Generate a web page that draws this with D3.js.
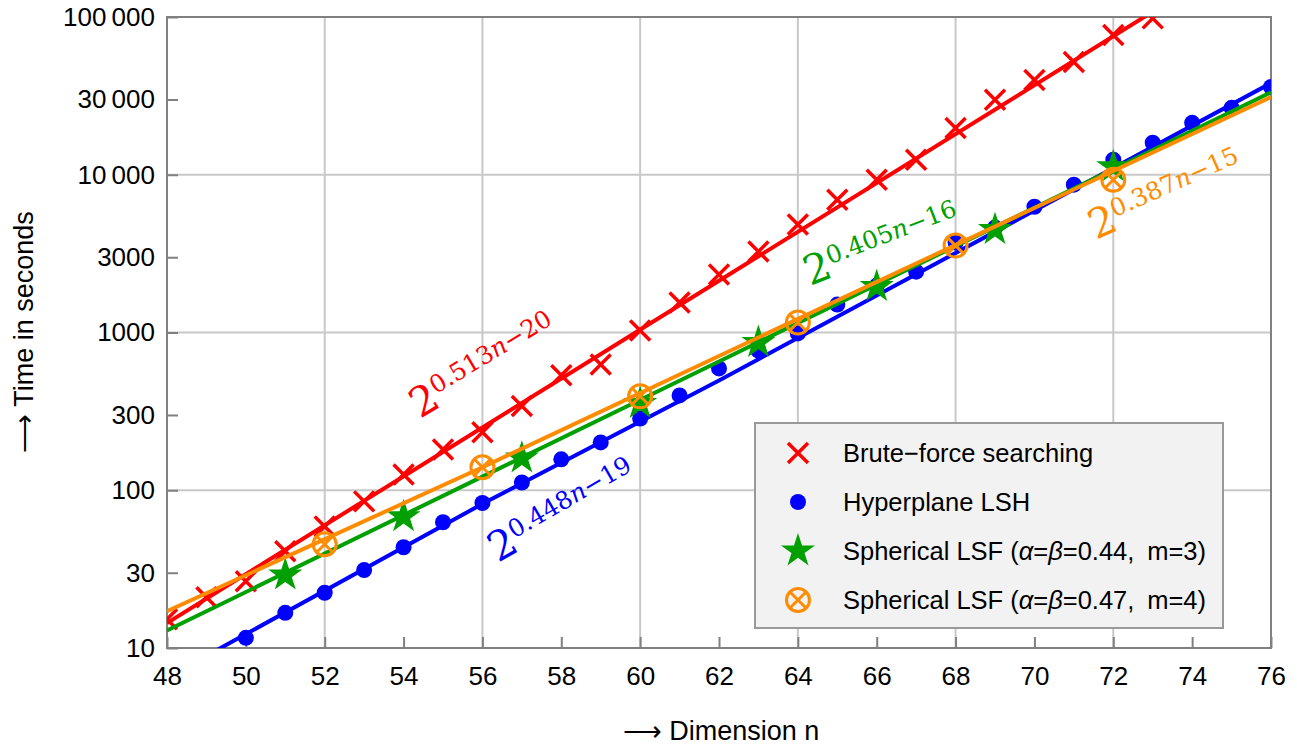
<!DOCTYPE html>
<html>
<head>
<meta charset="utf-8">
<script src="https://cdn.jsdelivr.net/npm/d3@7"></script>
<style>
body { margin: 0; background: #fff; }
text { font-family: "Liberation Sans", Arial, sans-serif; }
</style>
</head>
<body>
<div id="chart"></div>
<script>

// measured points (dimension n, time in seconds)
var bruteN = [48, 49, 50, 51, 52, 53, 54, 55, 56, 57, 58, 59, 60, 61, 62, 63, 64, 65, 66, 67, 68, 69, 70, 71, 72, 73];
var bruteT = [15.2, 21, 26.5, 41, 59, 85, 126, 181, 233, 342, 535, 627, 1030, 1549, 2328, 3260, 4830, 6950, 9290, 12440, 19800, 29840, 39900, 51900, 76900, 98000];

var hyperN = [50, 51, 52, 53, 54, 55, 56, 57, 58, 59, 60, 61, 62, 63, 64, 65, 66, 67, 68, 69, 70, 71, 72, 73, 74, 75, 76];
var hyperT = [11.6, 16.7, 22.4, 31.2, 43.5, 62.7, 83, 112, 157, 201, 285, 399, 592, 769, 986, 1503, 1983, 2431, 3716, 4625, 6270, 8650, 12450, 15960, 21350, 26550, 36000];

var lsf3N = [51, 54, 57, 60, 63, 66, 69, 72];
var lsf3T = [29, 68, 160, 355, 865, 1955, 4490, 11250];

var lsf4N = [52, 56, 60, 64, 68, 72];
var lsf4T = [45.5, 140, 394, 1157, 3557, 9290];

// fitted curves, read at a few n
var fitN = [48, 56, 62, 76];
var bruteFit = [14.4, 250, 2130, 315000];
var hyperFit = [6.5, 82, 497, 38100];
var lsf3Fit = [12.9, 122, 655, 33300];
var lsf4Fit = [17.1, 140, 710, 31100];

var fitCoef = ["0.513", "0.448", "0.405", "0.387"];
var fitConst = ["\u221220", "\u221219", "\u221216", "\u221215"];

var xTicks = [48, 50, 52, 54, 56, 58, 60, 62, 64, 66, 68, 70, 72, 74, 76];
var xGrid = [52, 56, 60, 64, 68, 72];
var yTicks = [10, 30, 100, 300, 1000, 3000, 10000, 30000, 100000];
var yTickLabels = ["10", "30", "100", "300", "1000", "3000", "10\u2009000", "30\u2009000", "100\u2009000"];
var yGrid = [100, 1000, 10000];

var legendNames = ["Brute\u2212force searching", "Hyperplane LSH", "Spherical LSF (", "Spherical LSF ("];
var legendParams = [null, null, "0.44", "0.47"];
var legendM = [null, null, "3", "4"];

var W = 1297, H = 745;
var pLeft = 167, pTop = 17, pRight = 1271, pBottom = 648;

var svg = d3.select("#chart").append("svg")
	.attr("width", W)
	.attr("height", H);

var x = d3.scaleLinear().domain([48, 76]).range([pLeft, pRight]);
var y = d3.scaleLog().domain([10, 100000]).range([pBottom, pTop]);

svg.append("defs").append("clipPath").attr("id", "plotclip")
	.append("rect")
	.attr("x", pLeft).attr("y", pTop)
	.attr("width", pRight - pLeft).attr("height", pBottom - pTop);

// grid
svg.selectAll("line.vgrid").data(xGrid).enter().append("line")
	.attr("class", "vgrid")
	.attr("x1", function (d) { return x(d); })
	.attr("x2", function (d) { return x(d); })
	.attr("y1", pTop).attr("y2", pBottom)
	.style("stroke", "#c8c8c8").style("stroke-width", 2);
svg.selectAll("line.hgrid").data(yGrid).enter().append("line")
	.attr("class", "hgrid")
	.attr("y1", function (d) { return y(d); })
	.attr("y2", function (d) { return y(d); })
	.attr("x1", pLeft).attr("x2", pRight)
	.style("stroke", "#c8c8c8").style("stroke-width", 2);

// axes
var xAxis = svg.append("g")
	.attr("transform", "translate(0," + pBottom + ")")
	.call(d3.axisBottom(x).tickValues(xTicks).tickSize(-11).tickPadding(19).tickFormat(d3.format("d")));
var yAxis = svg.append("g")
	.attr("transform", "translate(" + pLeft + ",0)")
	.call(d3.axisLeft(y).tickValues(yTicks).tickSize(-11).tickPadding(12).tickFormat(function (d, i) {
		return yTickLabels[i];
	}));
[xAxis, yAxis].forEach(function (a) {
	a.select(".domain").remove();
	a.selectAll(".tick line").style("stroke", "#808080").style("stroke-width", 2);
	a.selectAll(".tick text")
		.style("font-family", "Liberation Sans, Arial, sans-serif")
		.style("font-size", "26px")
		.style("fill", "#000");
});

svg.append("rect")
	.attr("x", pLeft).attr("y", pTop)
	.attr("width", pRight - pLeft).attr("height", pBottom - pTop)
	.style("fill", "none").style("stroke", "#808080").style("stroke-width", 2);

// axis titles
svg.append("text")
	.attr("x", 721).attr("y", 740)
	.attr("text-anchor", "middle")
	.style("font-size", "27px")
	.text("\u27F6 Dimension n");
svg.append("text")
	.attr("transform", "translate(33,332) rotate(-90)")
	.attr("text-anchor", "middle")
	.style("font-size", "27px")
	.text("\u27F6 Time in seconds");

// marker drawing
function drawMarker(g, kind, color) {
	if (kind == "cross") {
		g.append("path").attr("d", "M-10,-10L10,10M-10,10L10,-10")
			.style("stroke", color).style("stroke-width", 3.5).style("fill", "none");
	} else if (kind == "dot") {
		g.append("circle").attr("r", 8).style("fill", color);
	} else if (kind == "star") {
		g.append("path").attr("d", d3.symbol().type(d3.symbolStar).size(360)())
			.style("fill", color);
	} else {
		g.append("circle").attr("r", 11.5)
			.style("fill", "none").style("stroke", color).style("stroke-width", 3);
		g.append("path").attr("d", "M-8,-8L8,8M-8,8L8,-8")
			.style("stroke", color).style("stroke-width", 3).style("fill", "none");
	}
}

var series = [
	{ n: bruteN, t: bruteT, fit: bruteFit, color: "#ff0000", kind: "cross" },
	{ n: hyperN, t: hyperT, fit: hyperFit, color: "#0000ff", kind: "dot" },
	{ n: lsf3N, t: lsf3T, fit: lsf3Fit, color: "#00a000", kind: "star" },
	{ n: lsf4N, t: lsf4T, fit: lsf4Fit, color: "#ff8c00", kind: "ring" }
];

var plot = svg.append("g").attr("clip-path", "url(#plotclip)");
var fitLine = d3.line()
	.x(function (d) { return x(d[0]); })
	.y(function (d) { return y(d[1]); });

series.forEach(function (s) {
	plot.append("path")
		.datum(fitN.map(function (n, i) { return [n, s.fit[i]]; }))
		.attr("d", fitLine)
		.style("fill", "none")
		.style("stroke", s.color)
		.style("stroke-width", 4);
	plot.selectAll(null)
		.data(s.n.map(function (n, i) { return [n, s.t[i]]; }))
		.enter().append("g")
		.attr("transform", function (d) { return "translate(" + x(d[0]) + "," + y(d[1]) + ")"; })
		.each(function () { drawMarker(d3.select(this), s.kind, s.color); });
});

// fit formulas
var labelPos = [[420, 419, 31], [498, 563, 30], [810, 286, 21], [1096, 240, 24]];
series.forEach(function (s, i) {
	var p = labelPos[i];
	var t = svg.append("text")
		.attr("transform", "translate(" + p[0] + "," + p[1] + ") rotate(" + (-p[2]) + ")")
		.style("font-family", "DejaVu Serif, serif")
		.style("fill", s.color);
	t.append("tspan").style("font-size", "41px").text("2");
	t.append("tspan").attr("dy", -13).style("font-size", "24.5px").text(fitCoef[i]);
	t.append("tspan").style("font-size", "24.5px").style("font-style", "italic").text("n");
	t.append("tspan").style("font-size", "24.5px").text(fitConst[i]);
});

// legend
var legend = svg.append("g");
legend.append("rect")
	.attr("x", 755).attr("y", 423)
	.attr("width", 468).attr("height", 205)
	.style("fill", "#f2f2f2").style("stroke", "#999").style("stroke-width", 2);
var legendY = [453, 502, 551, 600];
series.forEach(function (s, i) {
	var g = legend.append("g").attr("transform", "translate(798," + legendY[i] + ")");
	drawMarker(g, s.kind, s.color);
	var t = legend.append("text")
		.attr("x", 843).attr("y", legendY[i])
		.attr("dy", "0.35em")
		.style("font-size", "25.5px")
		.text(legendNames[i]);
	if (legendParams[i]) {
		t.append("tspan").style("font-style", "italic").text("\u03B1");
		t.append("tspan").text("=");
		t.append("tspan").style("font-style", "italic").text("\u03B2");
		t.append("tspan").text("=" + legendParams[i] + ",\u2002m=" + legendM[i] + ")");
	}
});

</script>
</body>
</html>
